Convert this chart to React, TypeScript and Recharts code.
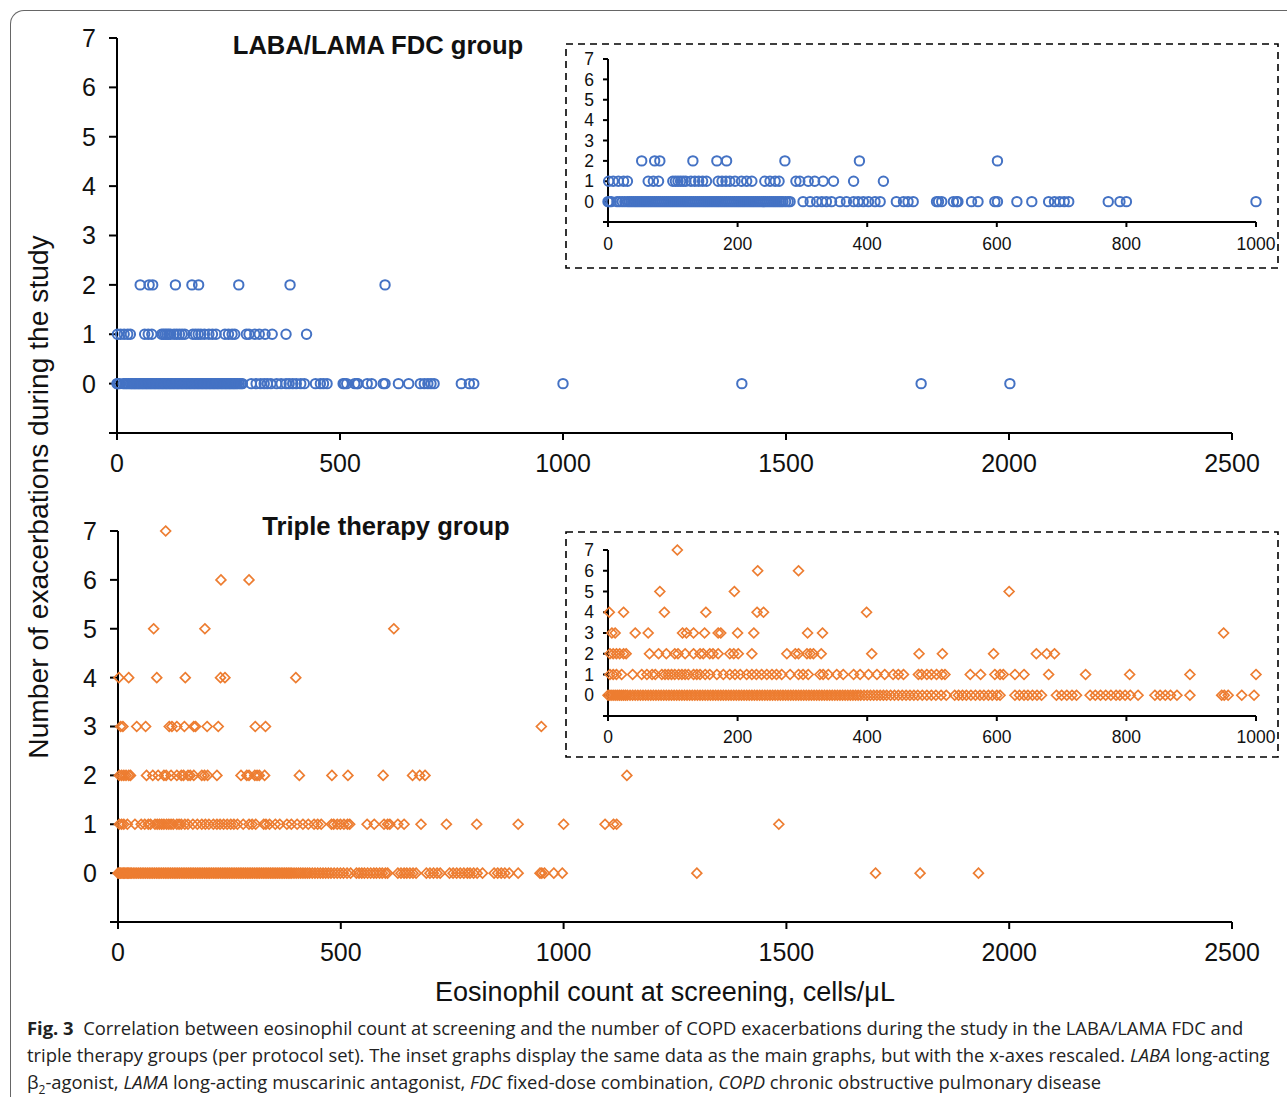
import React from 'react';
import { ScatterChart, Scatter, XAxis, YAxis } from 'recharts';

// ---------- data (eosinophil count per exacerbation level) ----------
const LABA_0 = [0, 2, 5, 14, 18, 22, 26, 30, 33, 36, 39, 42, 45, 48, 51, 54, 57, 60, 63, 66, 69, 72, 75, 78, 81, 84, 87, 90, 93, 96, 99, 102, 105, 108, 111, 114, 117, 120, 123, 126, 129, 132, 135, 138, 141, 144, 147, 150, 153, 156, 159, 162, 165, 168, 171, 174, 177, 180, 183, 186, 189, 192, 195, 198, 201, 204, 207, 210, 213, 216, 219, 222, 225, 228, 231, 234, 237, 240, 243, 246, 249, 252, 255, 258, 261, 264, 267, 270, 274, 278, 281, 301, 312, 322, 330, 337, 345, 358, 368, 379, 386, 394, 402, 412, 420, 445, 456, 463, 471, 507, 510, 515, 533, 538, 540, 561, 571, 597, 601, 631, 654, 680, 689, 697, 704, 711, 772, 790, 800, 1000, 1401, 1803, 2002];
const LABA_1 = [1, 8, 16, 24, 30, 62, 70, 78, 100, 104, 108, 112, 116, 120, 128, 134, 140, 146, 152, 170, 176, 182, 188, 196, 206, 214, 222, 242, 250, 258, 264, 290, 296, 309, 319, 332, 348, 379, 425];
const LABA_2 = [52, 72, 80, 131, 168, 183, 273, 388, 601];

const TRI_0 = [0, 3, 6, 9, 12, 15, 18, 21, 24, 27, 30, 34, 38, 42, 46, 50, 54, 58, 62, 66, 70, 74, 78, 82, 86, 90, 94, 98, 102, 106, 110, 114, 118, 122, 126, 130, 134, 138, 142, 146, 150, 154, 158, 162, 166, 170, 174, 178, 182, 186, 190, 194, 198, 202, 206, 210, 214, 218, 222, 226, 230, 234, 238, 242, 246, 250, 254, 258, 262, 266, 270, 274, 278, 282, 286, 290, 294, 298, 302, 306, 310, 314, 318, 322, 326, 330, 334, 338, 342, 346, 350, 354, 358, 362, 366, 370, 374, 378, 382, 386, 390, 395, 400, 405, 410, 415, 420, 425, 430, 436, 442, 448, 454, 460, 466, 472, 478, 485, 492, 499, 506, 514, 522, 535, 541, 547, 553, 560, 567, 574, 580, 587, 593, 600, 605, 628, 635, 642, 648, 655, 662, 669, 692, 700, 708, 716, 723, 744, 752, 760, 768, 776, 784, 790, 798, 806, 818, 844, 852, 860, 868, 878, 898, 947, 951, 957, 978, 997, 1299, 1700, 1800, 1931];
const TRI_1 = [3, 8, 13, 21, 38, 52, 60, 68, 73, 83, 88, 93, 98, 103, 109, 114, 119, 124, 132, 137, 142, 150, 157, 168, 178, 188, 196, 204, 214, 222, 229, 237, 245, 253, 260, 268, 281, 294, 301, 309, 327, 332, 340, 353, 363, 379, 389, 402, 415, 427, 440, 448, 456, 479, 484, 492, 499, 507, 515, 520, 559, 575, 597, 605, 610, 628, 642, 680, 737, 805, 898, 1000, 1093, 1112, 1119, 1483];
const TRI_2 = [3, 8, 13, 18, 24, 28, 64, 78, 90, 103, 108, 119, 132, 142, 147, 157, 162, 170, 188, 194, 201, 222, 276, 289, 294, 307, 312, 317, 329, 407, 480, 516, 595, 661, 677, 689, 1142];
const TRI_3 = [6, 11, 42, 62, 115, 121, 132, 149, 170, 174, 200, 225, 308, 331, 950];
const TRI_4 = [2, 24, 87, 151, 230, 240, 399];
const TRI_5 = [80, 195, 619];
const TRI_6 = [231, 294];
const TRI_7 = [107];

const MAIN_X_TICKS = [0, 500, 1000, 1500, 2000, 2500];
const INSET_X_TICKS = [0, 200, 400, 600, 800, 1000];
const Y_TICKS = [-1, 0, 1, 2, 3, 4, 5, 6, 7];

const TITLE_TOP = 'LABA/LAMA FDC group';
const TITLE_BOTTOM = 'Triple therapy group';
const X_LABEL = 'Eosinophil count at screening, cells/μL';
const Y_LABEL = 'Number of exacerbations during the study';

// ---------- helpers ----------
const toPoints = (levels: number[][]) =>
  levels.flatMap((xs, y) => xs.map((x) => ({ x, y })));

const LABA_POINTS = toPoints([LABA_0, LABA_1, LABA_2]);
const TRI_POINTS = toPoints([TRI_0, TRI_1, TRI_2, TRI_3, TRI_4, TRI_5, TRI_6, TRI_7]);
const LABA_INSET = LABA_POINTS.filter((p) => p.x <= 1000);
const TRI_INSET = TRI_POINTS.filter((p) => p.x <= 1000);

const FONT = '"Liberation Sans", Arial, sans-serif';
const BLUE = '#4472C4';
const ORANGE = '#ED7D31';
const INK = '#111';

const CircleMark = (p: any) => (
  <circle cx={p.cx} cy={p.cy} r={4.7} fill="none" stroke={BLUE} strokeWidth={2} />
);
const DiamondMark = (p: any) => {
  const s = 4.9;
  return (
    <polygon
      points={`${p.cx},${p.cy - s} ${p.cx + s},${p.cy} ${p.cx},${p.cy + s} ${p.cx - s},${p.cy}`}
      fill="none"
      stroke={ORANGE}
      strokeWidth={1.7}
    />
  );
};

const yFmt = (v: number) => (v < 0 ? '' : String(v));

type PanelProps = {
  left: number;
  top: number;
  width: number;
  height: number;
  marginTop: number;
  marginRight: number;
  yWidth: number;
  xHeight: number;
  data: { x: number; y: number }[];
  xDomain: [number, number];
  xTicks: number[];
  shape: any;
  fontSize: number;
  xTickSize: number;
  xTickMargin: number;
  yTickSize: number;
  yTickMargin: number;
};

function Panel(p: PanelProps) {
  const tick = { fontSize: p.fontSize, fill: INK, fontFamily: FONT };
  const line = { stroke: '#000', strokeWidth: 2 };
  return (
    <div style={{ position: 'absolute', left: p.left, top: p.top }}>
      <ScatterChart
        width={p.width}
        height={p.height}
        margin={{ top: p.marginTop, right: p.marginRight, bottom: 0, left: 0 }}
      >
        <XAxis
          type="number"
          dataKey="x"
          domain={p.xDomain}
          ticks={p.xTicks}
          interval={0}
          height={p.xHeight}
          tick={tick}
          axisLine={line}
          tickLine={line}
          tickSize={p.xTickSize}
          tickMargin={p.xTickMargin}
        />
        <YAxis
          type="number"
          dataKey="y"
          domain={[-1, 7]}
          ticks={Y_TICKS}
          interval={0}
          width={p.yWidth}
          tick={tick}
          tickFormatter={yFmt}
          axisLine={line}
          tickLine={line}
          tickSize={p.yTickSize}
          tickMargin={p.yTickMargin}
        />
        <Scatter data={p.data} shape={p.shape} isAnimationActive={false} />
      </ScatterChart>
    </div>
  );
}

function DashedBox({ left, top, width, height }: { left: number; top: number; width: number; height: number }) {
  return (
    <svg
      style={{ position: 'absolute', left: left - 2, top: top - 2 }}
      width={width + 4}
      height={height + 4}
    >
      <rect
        x={2}
        y={2}
        width={width}
        height={height}
        fill="#fff"
        stroke="#000"
        strokeWidth={1.6}
        strokeDasharray="7 5"
      />
    </svg>
  );
}

export default function App() {
  return (
    <div
      style={{
        position: 'absolute',
        left: 0,
        top: 0,
        width: 1287,
        height: 1098,
        overflow: 'hidden',
        background: '#fff',
        fontFamily: FONT,
      }}
    >
      {/* frame */}
      <div
        style={{
          position: 'absolute',
          left: 10,
          top: 10,
          width: 1300,
          height: 1086,
          borderLeft: '1.5px solid #666',
          borderTop: '1.5px solid #666',
          borderTopLeftRadius: 14,
        }}
      />

      {/* top main chart */}
      <Panel
        left={0}
        top={0}
        width={1287}
        height={480}
        marginTop={38}
        marginRight={55}
        yWidth={117}
        xHeight={47}
        data={LABA_POINTS}
        xDomain={[0, 2500]}
        xTicks={MAIN_X_TICKS}
        shape={CircleMark}
        fontSize={25}
        xTickSize={7}
        xTickMargin={14}
        yTickSize={8}
        yTickMargin={13}
      />

      {/* bottom main chart */}
      <Panel
        left={0}
        top={480}
        width={1287}
        height={520}
        marginTop={51}
        marginRight={55}
        yWidth={118}
        xHeight={78}
        data={TRI_POINTS}
        xDomain={[0, 2500]}
        xTicks={MAIN_X_TICKS}
        shape={DiamondMark}
        fontSize={25}
        xTickSize={7}
        xTickMargin={14}
        yTickSize={8}
        yTickMargin={13}
      />

      {/* titles */}
      <div
        style={{
          position: 'absolute',
          left: 378,
          top: 45,
          transform: 'translate(-50%, -50%)',
          fontSize: 25.6,
          fontWeight: 'bold',
          whiteSpace: 'nowrap',
          color: INK,
        }}
      >
        {TITLE_TOP}
      </div>
      <div
        style={{
          position: 'absolute',
          left: 386,
          top: 526,
          transform: 'translate(-50%, -50%)',
          fontSize: 25.6,
          fontWeight: 'bold',
          whiteSpace: 'nowrap',
          color: INK,
        }}
      >
        {TITLE_BOTTOM}
      </div>

      {/* axis labels */}
      <div
        style={{
          position: 'absolute',
          left: 38,
          top: 497,
          transform: 'translate(-50%, -50%) rotate(-90deg)',
          fontSize: 28.2,
          whiteSpace: 'nowrap',
          color: INK,
        }}
      >
        {Y_LABEL}
      </div>
      <div
        style={{
          position: 'absolute',
          left: 665,
          top: 992,
          transform: 'translate(-50%, -50%)',
          fontSize: 27,
          whiteSpace: 'nowrap',
          color: INK,
        }}
      >
        {X_LABEL}
      </div>

      {/* top inset */}
      <DashedBox left={566} top={44} width={712} height={224} />
      <Panel
        left={566}
        top={44}
        width={712}
        height={224}
        marginTop={15}
        marginRight={22}
        yWidth={42}
        xHeight={46}
        data={LABA_INSET}
        xDomain={[0, 1000]}
        xTicks={INSET_X_TICKS}
        shape={CircleMark}
        fontSize={17.5}
        xTickSize={5}
        xTickMargin={11}
        yTickSize={5}
        yTickMargin={9}
      />

      {/* bottom inset */}
      <DashedBox left={566} top={532} width={712} height={225} />
      <Panel
        left={566}
        top={532}
        width={712}
        height={225}
        marginTop={18}
        marginRight={22}
        yWidth={42}
        xHeight={41}
        data={TRI_INSET}
        xDomain={[0, 1000]}
        xTicks={INSET_X_TICKS}
        shape={DiamondMark}
        fontSize={17.5}
        xTickSize={5}
        xTickMargin={10}
        yTickSize={5}
        yTickMargin={9}
      />

      {/* caption */}
      <div
        style={{
          position: 'absolute',
          left: 27,
          top: 1014,
          fontFamily: '"Open Sans", "Noto Sans", sans-serif',
          fontSize: 18.4,
          lineHeight: '27px',
          color: '#222',
          whiteSpace: 'nowrap',
        }}
      >
        <div>
          <b>Fig. 3</b>&nbsp;&nbsp;Correlation between eosinophil count at screening and the number of COPD exacerbations during the study in the LABA/LAMA FDC and
        </div>
        <div>
          triple therapy groups (per protocol set). The inset graphs display the same data as the main graphs, but with the x-axes rescaled. <i>LABA</i> long-acting
        </div>
        <div>
          β<sub style={{ fontSize: 12, lineHeight: 0 }}>2</sub>-agonist, <i>LAMA</i> long-acting muscarinic antagonist, <i>FDC</i> fixed-dose combination, <i>COPD</i> chronic obstructive pulmonary disease
        </div>
      </div>
    </div>
  );
}
